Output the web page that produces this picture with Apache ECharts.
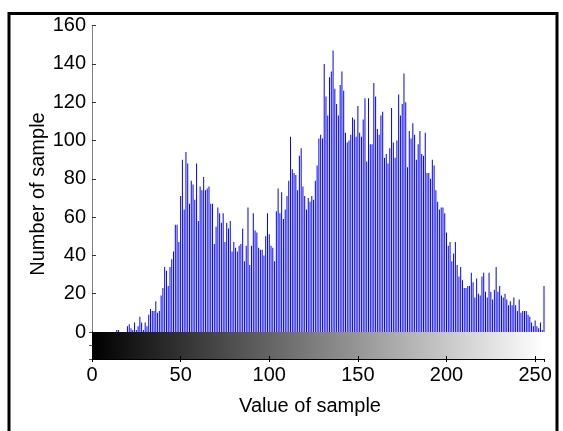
<!DOCTYPE html>
<html>
<head>
<meta charset="utf-8">
<script src="https://cdn.jsdelivr.net/npm/echarts@6/dist/echarts.min.js"></script>
<style>
html,body{margin:0;padding:0;background:#fff;}
#chart{width:563px;height:431px;}
</style>
</head>
<body>
<div id="chart"></div>
<script>
// Histogram counts for sample values 0..255
const counts = [
  0,0,0,0,0,0,0,0,0,0,
  0,0,0,0,1,1,0,0,0,0,
  3,4,2,1,5,1,3,8,5,1,
  5,3,9,12,11,11,16,10,11,19,
  23,34,32,24,34,38,42,56,56,47,
  71,90,64,94,88,67,79,77,69,88,
  58,76,74,81,74,75,76,67,67,46,
  55,65,62,57,62,47,57,54,58,42,
  47,44,42,45,46,54,37,45,65,35,
  45,62,53,52,44,43,43,40,50,62,
  51,45,44,37,63,75,62,73,59,64,
  71,79,102,85,83,82,74,92,96,76,
  71,64,70,68,71,69,79,87,101,103,
  101,140,123,113,133,136,147,127,119,113,
  129,136,126,104,99,100,103,112,111,102,
  118,104,102,111,122,89,122,98,98,130,
  123,106,103,113,115,91,93,88,96,117,
  99,91,100,124,113,119,135,120,86,105,
  101,109,103,90,98,105,93,92,104,83,
  83,80,90,87,74,68,64,65,65,62,
  52,45,47,37,41,47,35,29,34,27,
  23,23,24,24,31,26,18,28,20,19,
  29,31,21,18,31,21,17,22,34,21,
  24,19,18,20,17,14,16,14,18,14,
  11,17,10,11,11,11,9,8,5,3,
  6,3,2,5,1,24
];
// Sample values (bins) 0..255
const bins = counts.map((c, i) => i);
const xTickLabels = [0, 50, 100, 150, 200, 250];
const yTickLabels = [0, 20, 40, 60, 80, 100, 120, 140, 160];
const xName = 'Value of sample';
const yName = 'Number of sample';

const FONT = 'Liberation Sans, Arial, Helvetica, sans-serif';
const chart = echarts.init(document.getElementById('chart'), null, {renderer: 'canvas'});

const option = {
  animation: false,
  backgroundColor: '#ffffff',
  grid: [
    {left: 92, right: 19, top: 25.6, bottom: 99},
    {left: 92, right: 19, top: 332, height: 27}
  ],
  xAxis: [
    {gridIndex: 0, type: 'value', min: 0, max: 255, show: false},
    {gridIndex: 1, type: 'value', min: 0, max: 255, interval: 50, position: 'bottom', z: 10,
      axisLine: {show: true, lineStyle: {color: '#000', width: 1}},
      axisTick: {show: true, inside: true, length: 3, lineStyle: {color: '#000'}},
      axisLabel: {show: true, margin: 6, fontSize: 20, fontFamily: FONT, color: '#000',
        showMaxLabel: false,
        formatter: v => (xTickLabels.indexOf(v) >= 0 ? String(v) : '')},
      splitLine: {show: false}},
    {gridIndex: 1, type: 'value', min: 0, max: 255, interval: 50, position: 'top', z: 10,
      axisLine: {show: true, lineStyle: {color: '#000', width: 1}},
      axisTick: {show: true, inside: true, length: 3, lineStyle: {color: '#000'}},
      axisLabel: {show: false},
      splitLine: {show: false}}
  ],
  yAxis: [
    {gridIndex: 0, type: 'value', min: 0, max: 160, interval: 20,
      axisLine: {show: true, lineStyle: {color: '#808080', width: 1}},
      axisTick: {show: true, inside: true, length: 4, lineStyle: {color: '#333'}},
      axisLabel: {show: true, margin: 6, fontSize: 20, fontFamily: FONT, color: '#000',
        formatter: v => (yTickLabels.indexOf(v) >= 0 ? String(v) : '')},
      splitLine: {show: false}},
    {gridIndex: 1, type: 'value', min: 0, max: 1, interval: 0.5, position: 'right', z: 10,
      axisLine: {show: true, lineStyle: {color: '#000', width: 1}},
      axisTick: {show: true, inside: true, length: 3, lineStyle: {color: '#555'}},
      axisLabel: {show: false}, splitLine: {show: false}},
    {gridIndex: 1, type: 'value', min: 0, max: 1, position: 'left', z: 10,
      axisLine: {show: true, lineStyle: {color: '#000', width: 1}},
      axisTick: {show: false}, axisLabel: {show: false}, splitLine: {show: false}}
  ],
  series: [
    {
      type: 'bar', xAxisIndex: 0, yAxisIndex: 0,
      data: bins.map((b, i) => [b, counts[i]]),
      barWidth: 1,
      itemStyle: {color: '#0000ff'},
      silent: true
    },
    {
      type: 'custom', xAxisIndex: 1, yAxisIndex: 1, z: 1, silent: true,
      data: [[0, 255]],
      renderItem: function (params, api) {
        const p0 = api.coord([api.value(0), 1]);
        const p1 = api.coord([api.value(1), 0]);
        return {
          type: 'rect',
          shape: {x: p0[0], y: p0[1], width: p1[0] - p0[0], height: p1[1] - p0[1]},
          style: {
            fill: new echarts.graphic.LinearGradient(0, 0, 1, 0, [
              {offset: 0, color: '#000000'},
              {offset: 1, color: '#ffffff'}
            ])
          }
        };
      }
    }
  ],
  graphic: [
    {type: 'rect', shape: {x: 9, y: 13.5, width: 548, height: 440},
      style: {fill: 'none', stroke: '#000', lineWidth: 3}, silent: true, z: 100},
    {type: 'text', x: 310, y: 406, silent: true,
      style: {text: xName, font: '20px ' + FONT, fill: '#000', textAlign: 'center', textVerticalAlign: 'middle'}},
    {type: 'text', x: 38, y: 194, rotation: Math.PI / 2, silent: true,
      style: {text: yName, font: '20px ' + FONT, fill: '#000', textAlign: 'center', textVerticalAlign: 'middle'}}
  ]
};
chart.setOption(option);
</script>
</body>
</html>
